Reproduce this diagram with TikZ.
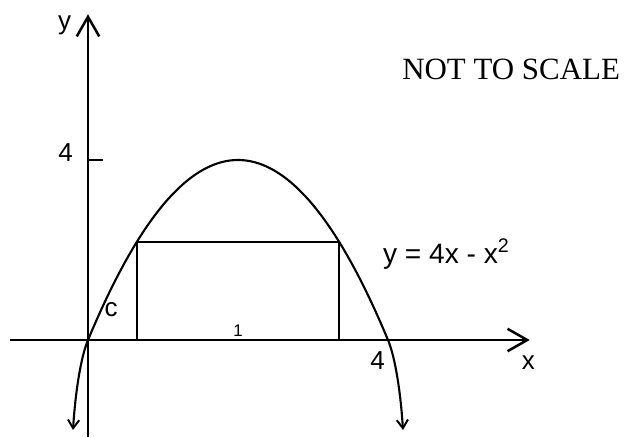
\documentclass[tikz,border=0pt]{standalone}
\usepackage{fontspec}
\setmainfont{Liberation Sans}
\newfontfamily\notefont{Liberation Serif}
\usepackage{tikz}
\usetikzlibrary{arrows.meta,positioning,calc}

\begin{document}
\begin{tikzpicture}[
    x=1.875cm, y=1.125cm,
    axis/.style={line width=1.7pt, -{Straight Barb[length=14pt, width=16pt, line width=1.8pt]}},
    curve/.style={line width=1.5pt, {Straight Barb[length=6pt, width=8pt, line width=1.4pt]}-{Straight Barb[length=6pt, width=8pt, line width=1.4pt]}},
    side/.style={line width=1.4pt},
    top/.style={line width=2.0pt},
    lbl/.style={font=\fontsize{18.5}{22}\selectfont, inner sep=0pt},
    small/.style={font=\fontsize{12}{14}\selectfont, inner sep=0pt},
    note/.style={font=\notefont\fontsize{22}{26}\selectfont, inner sep=0pt}
]
    \useasboundingbox (-1.1733,-2.1556) rectangle (7.1467,7.5556);

    \coordinate (O) at (0,0);
    \coordinate (xl) at (-1.04,0);
    \coordinate (xr) at (5.89,0);
    \coordinate (yb) at (0,-2.16);
    \coordinate (yt) at (0,7.24);

    % axes
    \draw [axis] (xl) -- (xr);
    \draw [axis] (yb) -- (yt);
    \coordinate (t4) at (0,4);
    \coordinate (t4r) at (0.2,4);
    \draw [side] (t4) -- (t4r);

    % parabola, ends bent down to the arrows
    \draw [curve] (-0.2,-2) .. controls (-0.17,-1.2) and (-0.1,-0.4) .. (O)
        -- plot[domain=0:4, samples=60, smooth] (\x,{4*\x-\x*\x})
        .. controls (4.1,-0.4) and (4.17,-1.2) .. (4.2,-2);

    % rectangle under the curve
    \coordinate (A) at (0.65,0);
    \coordinate (B) at (3.35,0);
    \coordinate (C) at (3.35,{4*3.35-3.35*3.35});
    \coordinate (D) at (0.65,{4*0.65-0.65*0.65});
    \draw [side] (A) -- (D);
    \draw [side] (B) -- (C);
    \draw [top] (D) -- (C);

    % labels
    \node [lbl] (ylab) at (-0.31,7.0) {y};
    \node [lbl, anchor=east] (four) at (-0.2,4.17) {4};
    \node [lbl] (clab) at (0.307,0.667) {c};
    \node [small] (one) at (2.0,0.2) {1};
    \node [lbl] (fourx) at (3.86,-0.456) {4};
    \node [lbl] (xlab) at (5.873,-0.51) {x};
    \node [lbl, font=\fontsize{20}{24}\selectfont, anchor=base west] (eqn) at (3.93,1.71) {y = 4x - x\textsuperscript{2}};
    \node [note, anchor=base west] (warn) at (4.187,5.778) {NOT TO SCALE};
\end{tikzpicture}
\end{document}
